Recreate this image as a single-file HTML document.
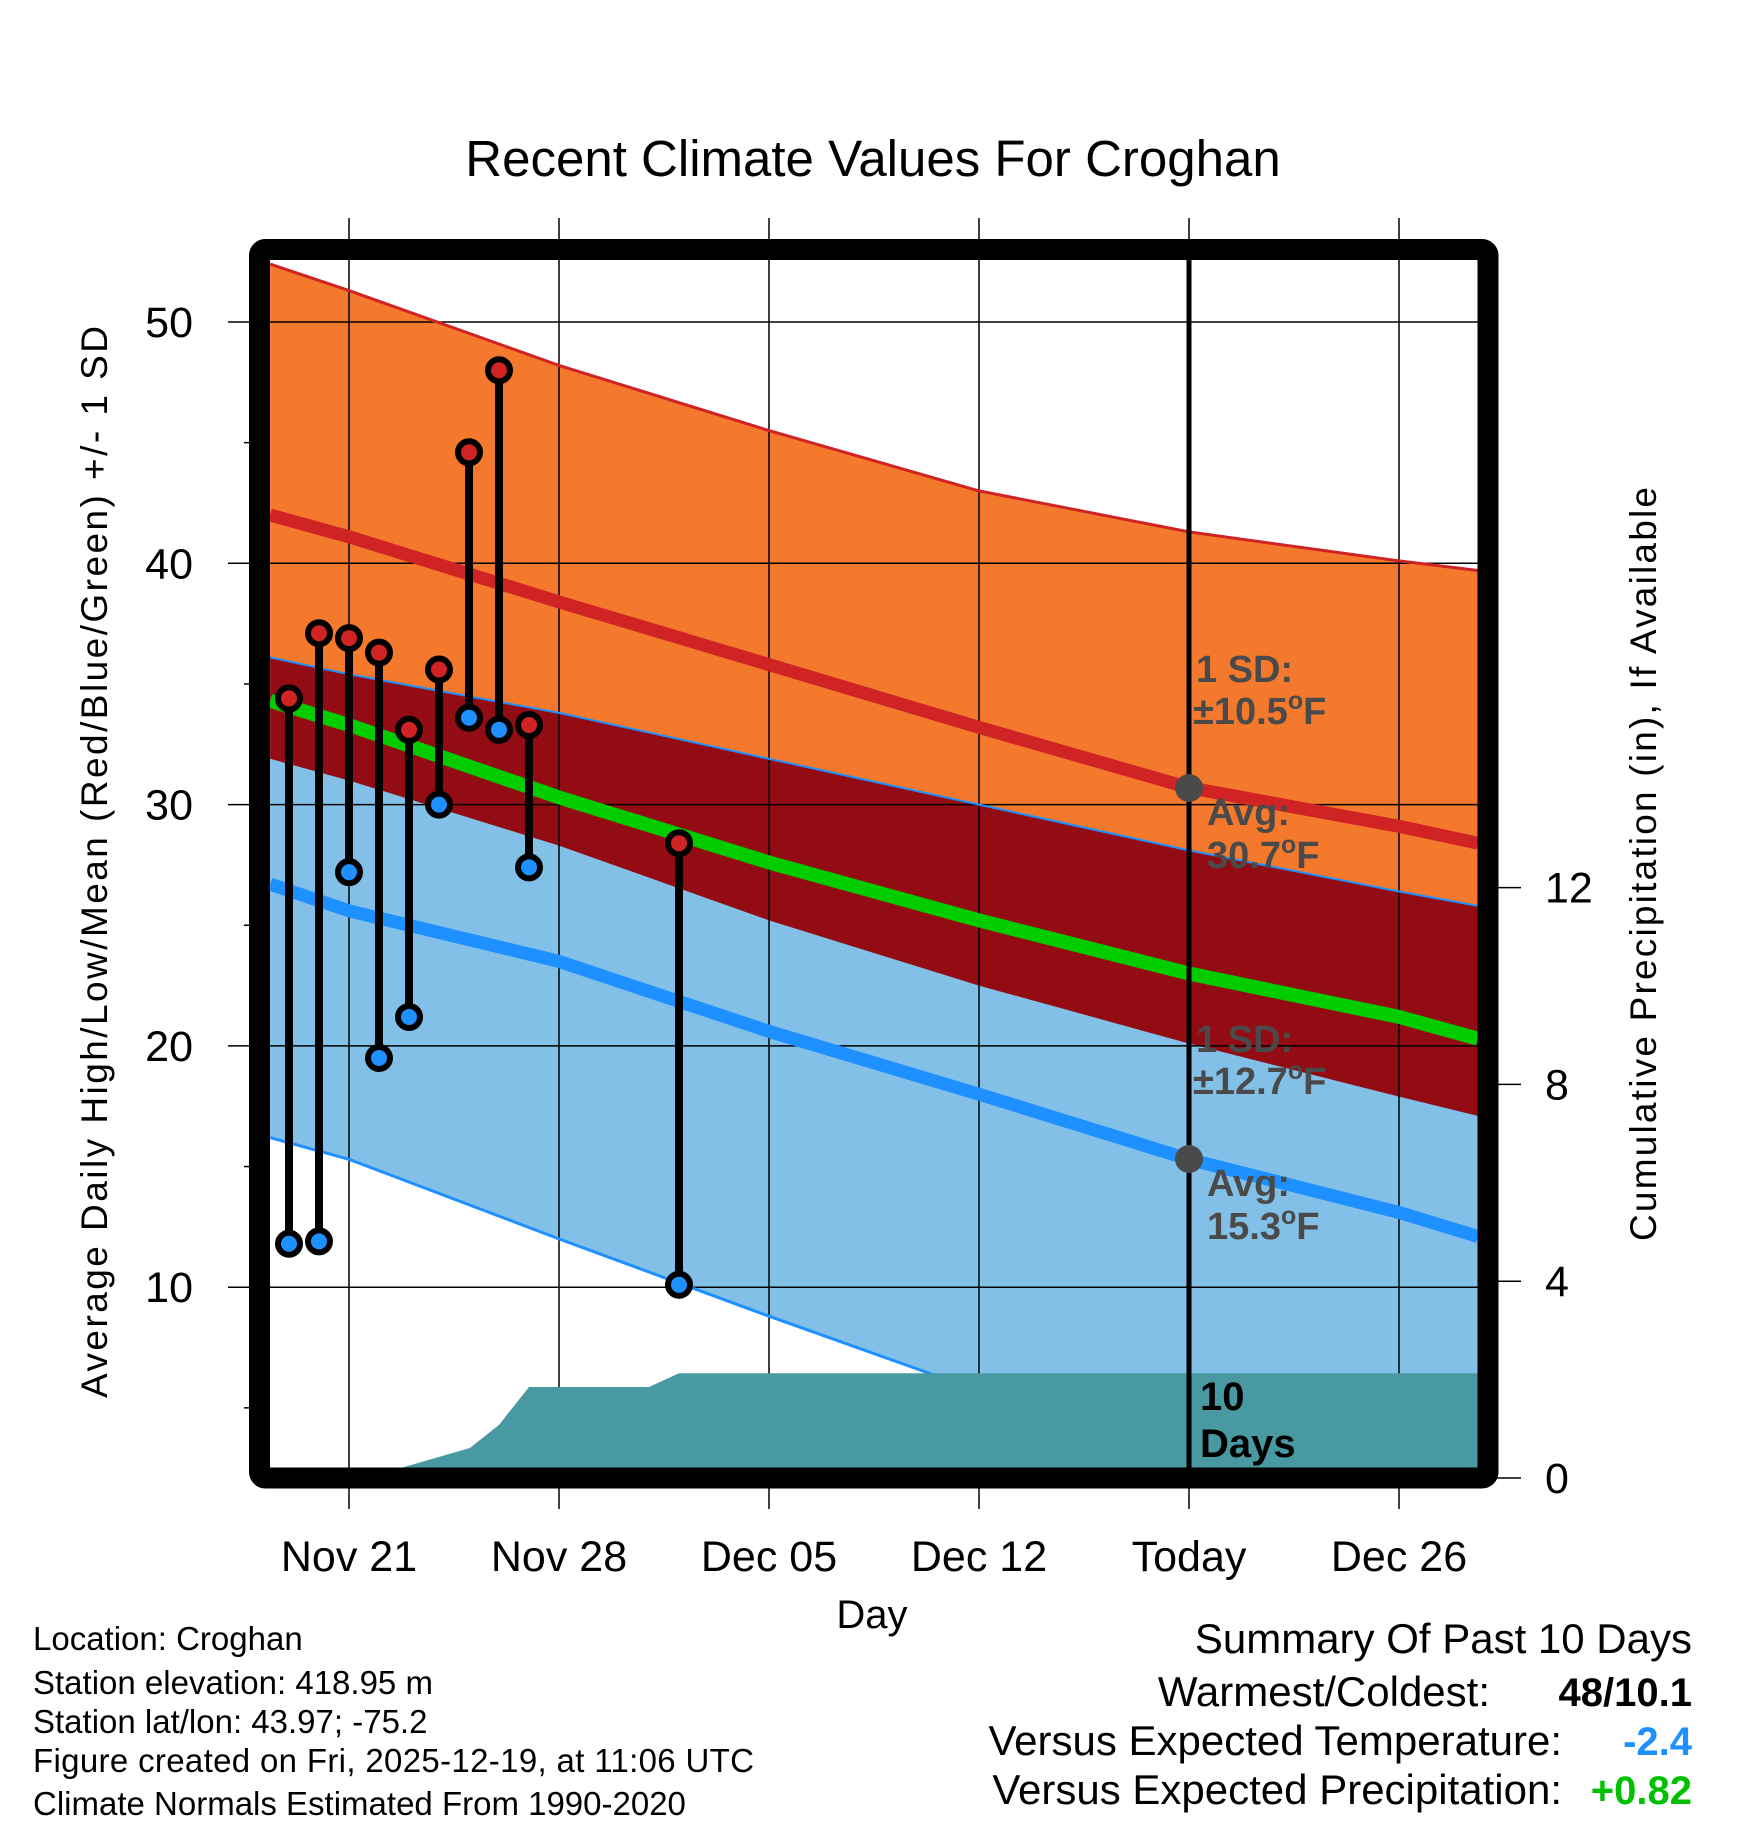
<!DOCTYPE html>
<html><head><meta charset="utf-8"><style>
html,body{margin:0;padding:0;background:#fff;}
svg{display:block;font-family:"Liberation Sans",sans-serif;}
</style></head><body>
<svg id="chart" width="1748" height="1828" viewBox="0 0 1748 1828" xmlns="http://www.w3.org/2000/svg">
<defs><clipPath id="plotclip"><rect x="270" y="260" width="1208" height="1208"/></clipPath></defs>
<g id="fills" clip-path="url(#plotclip)"></g>
<g id="grid"></g>
<g id="lines" clip-path="url(#plotclip)"></g>
<g id="precip" clip-path="url(#plotclip)"></g>
<g id="points"></g>
<line x1="1189" y1="245" x2="1189" y2="1480" stroke="#000" stroke-width="5"/>
<rect x="259.5" y="249.5" width="1228.5" height="1228.5" rx="6" fill="none" stroke="#000" stroke-width="21" stroke-linejoin="round"/>
<g id="ann" font-weight="bold" font-size="38" fill="#4a4a4a">
<circle cx="1189" cy="788" r="14" fill="#4a4a4a"/>
<circle cx="1189" cy="1159" r="14" fill="#4a4a4a"/>
<text x="1196" y="682">1 SD:</text>
<text x="1193" y="724">±10.5<tspan font-size="25" dy="-15">o</tspan><tspan dy="15">F</tspan></text>
<text x="1207" y="825">Avg:</text>
<text x="1207" y="868">30.7<tspan font-size="25" dy="-15">o</tspan><tspan dy="15">F</tspan></text>
<text x="1196" y="1052">1 SD:</text>
<text x="1193" y="1094">±12.7<tspan font-size="25" dy="-15">o</tspan><tspan dy="15">F</tspan></text>
<text x="1207" y="1196">Avg:</text>
<text x="1207" y="1239">15.3<tspan font-size="25" dy="-15">o</tspan><tspan dy="15">F</tspan></text>
<text x="1200" y="1410" fill="#000" font-size="40">10</text>
<text x="1200" y="1457" fill="#000" font-size="40">Days</text>
</g>
<g id="axes" font-size="43" fill="#000"></g>
<text x="873" y="176" font-size="51" text-anchor="middle">Recent Climate Values For Croghan</text>
<text x="872" y="1628" font-size="40" text-anchor="middle">Day</text>
<text transform="translate(107,862) rotate(-90)" font-size="37" text-anchor="middle" textLength="1072">Average Daily High/Low/Mean (Red/Blue/Green) +/- 1 SD</text>
<text transform="translate(1656,864) rotate(-90)" font-size="37" text-anchor="middle" textLength="754">Cumulative Precipitation (in), If Available</text>
<g font-size="33">
<text x="33" y="1650">Location: Croghan</text>
<text x="33" y="1694">Station elevation: 418.95 m</text>
<text x="33" y="1733">Station lat/lon: 43.97; -75.2</text>
<text x="33" y="1772" textLength="721">Figure created on Fri, 2025-12-19, at 11:06 UTC</text>
<text x="33" y="1815">Climate Normals Estimated From 1990-2020</text>
</g>
<g font-size="42">
<text x="1692" y="1653" text-anchor="end">Summary Of Past 10 Days</text>
<text x="1490" y="1706" text-anchor="end">Warmest/Coldest:</text>
<text x="1692" y="1706" text-anchor="end" font-weight="bold" font-size="40">48/10.1</text>
<text x="1562" y="1755" text-anchor="end">Versus Expected Temperature:</text>
<text x="1692" y="1755" text-anchor="end" font-weight="bold" font-size="40" fill="#1e90ff">-2.4</text>
<text x="1562" y="1804" text-anchor="end">Versus Expected Precipitation:</text>
<text x="1692" y="1804" text-anchor="end" font-weight="bold" font-size="40" fill="#00c000">+0.82</text>
</g>
</svg>
<script>
// days relative to Nov 21
const normDays = [-2.63, 0, 7, 14, 21, 28, 35, 37.63];
const highPlusSD = [52.4, 51.3, 48.2, 45.5, 43.0, 41.3, 40.1, 39.7];
const highMean   = [42.0, 41.1, 38.4, 35.8, 33.2, 30.7, 29.1, 28.4];
const highMinusSD= [31.9, 31.0, 28.3, 25.2, 22.5, 20.1, 17.9, 17.1];
const meanTemp   = [34.3, 33.3, 30.3, 27.6, 25.2, 23.0, 21.2, 20.3];
const lowPlusSD  = [36.1, 35.4, 33.8, 31.9, 30.0, 28.1, 26.4, 25.8];
const lowMean    = [26.7, 25.6, 23.5, 20.6, 18.0, 15.3, 13.1, 12.1];
const lowMinusSD = [16.2, 15.3, 12.0, 8.8, 5.7, 2.6, -0.5, -1.5];
const obsDays  = [-2, -1, 0, 1, 2, 3, 4, 5, 6, 11];
const obsHigh  = [34.4, 37.1, 36.9, 36.3, 33.1, 35.6, 44.6, 48.0, 33.3, 28.4];
const obsLow   = [11.8, 11.9, 27.2, 19.5, 21.2, 30.0, 33.6, 33.1, 27.4, 10.1];
const precipDays = [-2.63, 1.7, 4.03, 5, 6, 10, 11, 37.63];
const precipVals = [0, 0.2, 0.61, 1.08, 1.85, 1.85, 2.13, 2.13];
const xTickDays = [0, 7, 14, 21, 28, 35];
const xTickLabels = ["Nov 21", "Nov 28", "Dec 05", "Dec 12", "Today", "Dec 26"];
const yTicks = [10, 20, 30, 40, 50];
const yMinor = [5, 15, 25, 35, 45];
const y2Ticks = [0, 4, 8, 12];

const NS = "http://www.w3.org/2000/svg";
const X = d => 349 + 30 * d;
const Y = v => 322 + (50 - v) * 24.13;
const YP = p => 1478 - p * 49.2;
function mk(tag, attrs, parent) { const e = document.createElementNS(NS, tag); for (const k in attrs) e.setAttribute(k, attrs[k]); parent.appendChild(e); return e; }
function pts(days, vals, yf) { return days.map((d, i) => X(d).toFixed(1) + "," + yf(vals[i]).toFixed(1)); }
function band(top, bot) { return pts(normDays, top, Y).concat(pts(normDays, bot, Y).reverse()).join(" "); }

const fills = document.getElementById("fills");
let e;
e = mk("polygon", {points: band(highPlusSD, highMinusSD), fill: "#f5792d"}, fills);


e = mk("polygon", {points: band(lowPlusSD, lowMinusSD), fill: "#82c0e8"}, fills);


e = mk("polygon", {points: band(lowPlusSD, highMinusSD), fill: "#930c14"}, fills);



const grid = document.getElementById("grid");
xTickDays.forEach(d => {
  e = mk("line", {x1: X(d), x2: X(d), y1: 218, y2: 1509, stroke: "#000", "stroke-width": 1.5}, grid);
  
  
});
yTicks.forEach(v => {
  e = mk("line", {x1: 228, x2: 1478, y1: Y(v), y2: Y(v), stroke: "#000", "stroke-width": 1.5}, grid);
  
  
});
yMinor.forEach(v => {
  e = mk("line", {x1: 244, x2: 255, y1: Y(v), y2: Y(v), stroke: "#000", "stroke-width": 1.5}, grid);
  
  
});
y2Ticks.forEach(p => {
  e = mk("line", {x1: 1490, x2: 1521, y1: YP(p), y2: YP(p), stroke: "#000", "stroke-width": 1.5}, grid);
  
  
});

const lines = document.getElementById("lines");
function pl(vals, color, w, name) {
  e = mk("polyline", {points: pts(normDays, vals, Y).join(" "), fill: "none", stroke: color, "stroke-width": w}, lines);
  
  
}
pl(highPlusSD, "#d02424", 3, "high-plus-sd-line");
pl(lowPlusSD, "#1e90ff", 2, "low-plus-sd-line");
pl(lowMinusSD, "#1e90ff", 3, "low-minus-sd-line");
pl(highMean, "#d02424", 13, "high-mean-line");
pl(lowMean, "#1e90ff", 13, "low-mean-line");
pl(meanTemp, "#00cc00", 14, "mean-line");

const precip = document.getElementById("precip");
const pp = pts(precipDays, precipVals, YP);
pp.push(X(precipDays[precipDays.length - 1]) + ",1480", X(precipDays[0]) + ",1480");
e = mk("polygon", {points: pp.join(" "), fill: "#4899a2"}, precip);



const points = document.getElementById("points");
obsDays.forEach((d, i) => {
  e = mk("line", {x1: X(d), x2: X(d), y1: Y(obsHigh[i]), y2: Y(obsLow[i]), stroke: "#000", "stroke-width": 8}, points);
  
  
  e = mk("circle", {cx: X(d), cy: Y(obsHigh[i]), r: 11, fill: "#d02424", stroke: "#000", "stroke-width": 6}, points);
  
  
  e = mk("circle", {cx: X(d), cy: Y(obsLow[i]), r: 11, fill: "#1e90ff", stroke: "#000", "stroke-width": 6}, points);
  
  
});

const axes = document.getElementById("axes");
xTickDays.forEach((d, i) => {
  e = mk("text", {x: X(d), y: 1571, "text-anchor": "middle"}, axes);
  e.textContent = xTickLabels[i];
  
  
});
yTicks.forEach(v => {
  e = mk("text", {x: 193, y: Y(v) + 15, "text-anchor": "end"}, axes);
  e.textContent = String(v);
  
  
});
y2Ticks.forEach(p => {
  e = mk("text", {x: 1545, y: YP(p) + 15}, axes);
  e.textContent = String(p);
  
  
});
</script>
</body></html>
